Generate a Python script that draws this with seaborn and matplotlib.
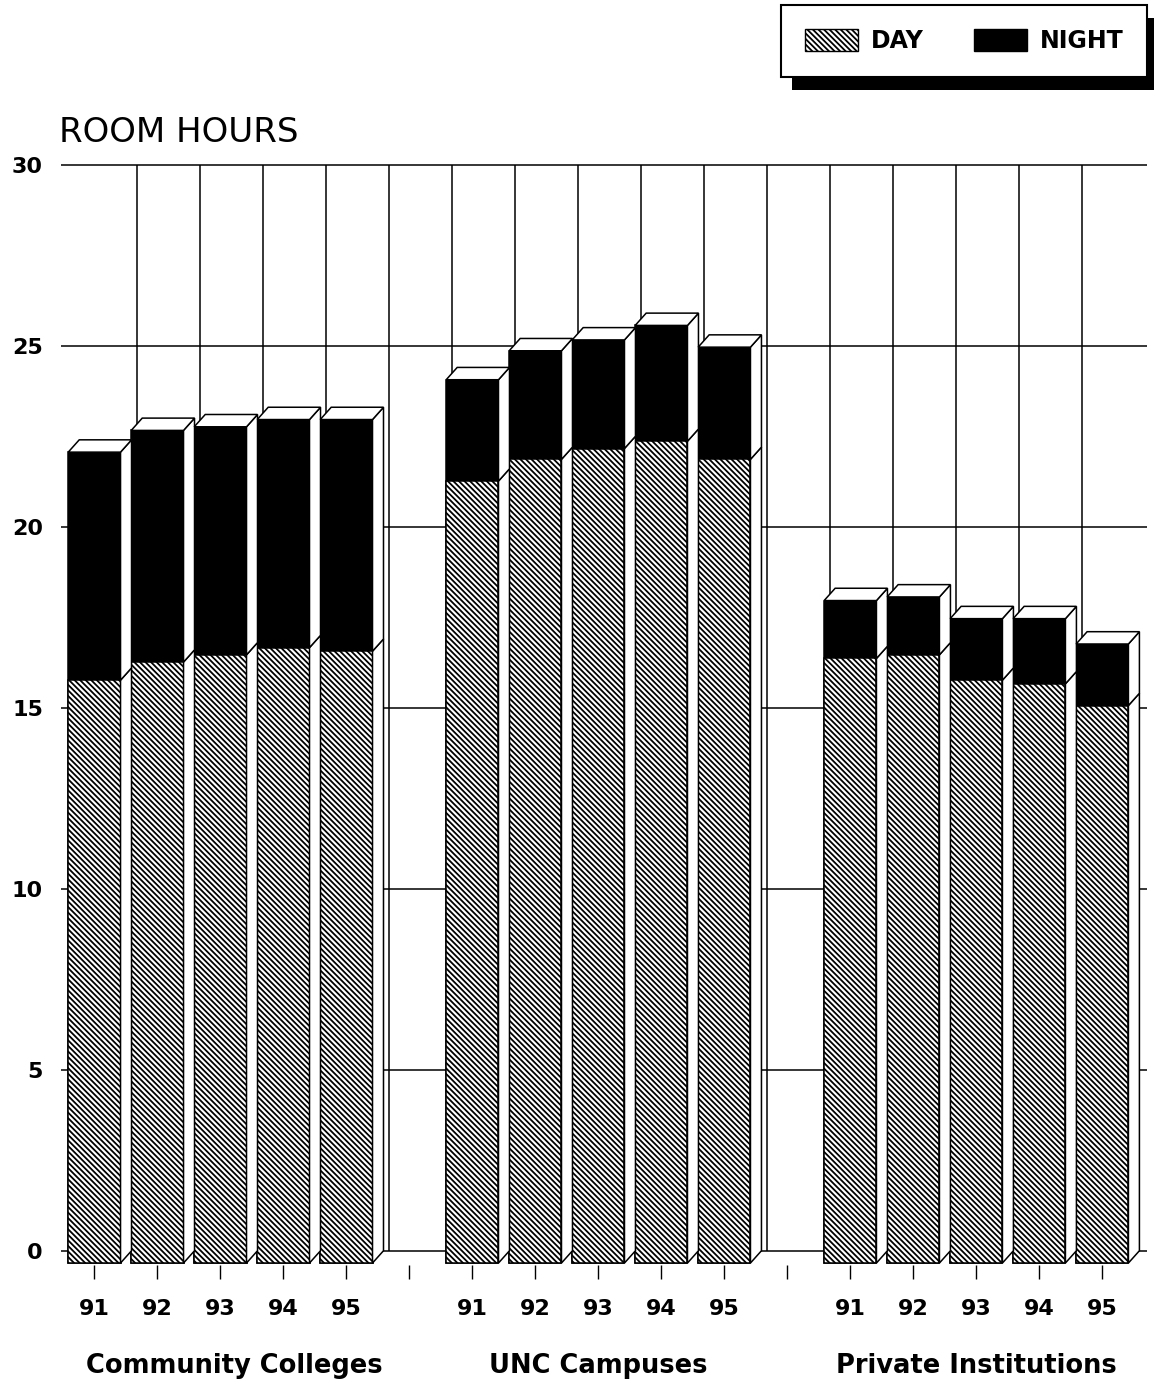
import numpy as np
import pandas as pd
import matplotlib
matplotlib.use("Agg")
import matplotlib.pyplot as plt
from matplotlib.patches import Polygon, Patch, Rectangle
from matplotlib.transforms import IdentityTransform
import seaborn as sns

# ---------------- data ----------------
groups = ["Community Colleges", "UNC Campuses", "Private Institutions"]
years = ["91", "92", "93", "94", "95"]
day_cc = [16.1, 16.6, 16.8, 17.0, 16.9]
night_cc = [6.3, 6.4, 6.3, 6.3, 6.4]
day_unc = [21.6, 22.2, 22.5, 22.7, 22.2]
night_unc = [2.8, 3.0, 3.0, 3.2, 3.1]
day_priv = [16.7, 16.8, 16.1, 16.0, 15.4]
night_priv = [1.6, 1.6, 1.7, 1.8, 1.7]
y_ticks = [0, 5, 10, 15, 20, 25, 30]
legend_labels = ["DAY", "NIGHT"]
y_title = "ROOM HOURS"

day_all = [day_cc, day_unc, day_priv]
night_all = [night_cc, night_unc, night_priv]

rows = []
for gi, g in enumerate(groups):
    for j, yr in enumerate(years):
        d = day_all[gi][j]
        n = night_all[gi][j]
        rows.append({"group": g, "year": yr, "slot": gi * 6 + j,
                     "day": d, "night": n, "total": d + n})
df = pd.DataFrame(rows)

# ---------------- style ----------------
sns.set_theme(style="white")
plt.rcParams["font.family"] = ["DejaVu Sans"]
plt.rcParams["hatch.linewidth"] = 1.3
plt.rcParams["hatch.color"] = "black"
for key in ["text.color", "axes.labelcolor", "xtick.color", "ytick.color",
            "xtick.labelcolor", "ytick.labelcolor", "legend.labelcolor"]:
    plt.rcParams[key] = "black"

W, H, DPI = 1154, 1381, 100
fig = plt.figure(figsize=(W / DPI, H / DPI), dpi=DPI)
fig.patch.set_facecolor("white")
ax = fig.add_axes([61 / W, 115.8 / H, 1086 / W, 1106.3 / H])
ax.set_facecolor("white")

XMIN, XMAX = -0.53, 16.71
YMIN, YMAX = -0.06, 30.5
DX = 11 / 63.0      # depth offset in slot units
DY = 12.3 / 36.2    # depth offset in value units
LW = 1.1
HATCH = "\\" * 6
n_slots = 17
gap_slots = [5, 11]

# back-wall grid
ax.hlines([v + DY for v in y_ticks], XMIN, XMAX, color="black", lw=LW, zorder=0.5)
ax.vlines([k + 0.5 + DX for k in range(n_slots - 1)], DY, max(y_ticks) + DY,
          color="black", lw=LW, zorder=0.5)

# front faces through seaborn
sns.barplot(data=df, x="slot", y="total", native_scale=True, color="black",
            saturation=1, width=0.83, errorbar=None, edgecolor="black",
            linewidth=LW, ax=ax, zorder=1)
sns.barplot(data=df, x="slot", y="day", native_scale=True, color="white",
            saturation=1, width=0.83, errorbar=None, edgecolor="black",
            linewidth=LW, hatch=HATCH, ax=ax, zorder=1)

n = len(df)
tot_p = sorted(ax.patches[:n], key=lambda p: p.get_x())
day_p = sorted(ax.patches[n:2 * n], key=lambda p: p.get_x())

def face(pts):
    ax.add_patch(Polygon(pts, closed=True, facecolor="white", edgecolor="black",
                         lw=LW, zorder=2, joinstyle="miter"))

for pt, pdy in zip(tot_p, day_p):
    x0 = pt.get_x()
    x1 = x0 + pt.get_width()
    hd = pdy.get_height()
    ht = pt.get_height()
    face([(x1, 0), (x1 + DX, DY), (x1 + DX, hd + DY), (x1, hd)])
    face([(x1, hd), (x1 + DX, hd + DY), (x1 + DX, ht + DY), (x1, ht)])
    face([(x0, ht), (x0 + DX, ht + DY), (x1 + DX, ht + DY), (x1, ht)])

ax.set_xlim(XMIN, XMAX)
ax.set_ylim(YMIN, YMAX)
for s in ax.spines.values():
    s.set_visible(False)

# x ticks
xlabels = []
yi = 0
for k in range(n_slots):
    if k in gap_slots:
        xlabels.append("")
    else:
        xlabels.append(years[yi % 5])
        yi += 1
ax.set_xticks(range(n_slots))
ax.set_xticklabels(xlabels, fontsize=16, fontweight="bold", color="black")
ax.tick_params(axis="x", bottom=True, length=10, width=1.0, color="black",
               labelcolor="black", direction="out", pad=14)
ax.set_xlabel("")

# y ticks
ax.set_yticks([v + DY for v in y_ticks])
ax.set_yticklabels([str(v) for v in y_ticks], fontsize=16, fontweight="bold",
                   color="black")
ax.tick_params(axis="y", left=False, length=0, pad=13, labelcolor="black")
ax.set_ylabel("")

# group labels
group_label_x = [2.22, 8.0, 14.0]
yb = (1265.2 - 1373) / 1106.3
for gx, g in zip(group_label_x, groups):
    ax.text(gx, yb, g, transform=ax.get_xaxis_transform(), ha="center",
            va="baseline", fontsize=18.5, fontweight="bold", color="black")

# title
fig.text(59 / W, 1 - 142 / H, y_title, fontsize=24.5, ha="left", va="baseline",
         color="black")

# legend
handles = [Patch(facecolor="white", edgecolor="black", hatch=HATCH, lw=1.0),
           Patch(facecolor="black", edgecolor="black")]
leg = fig.legend(handles, legend_labels, loc="upper right",
                 bbox_to_anchor=(1147 / W, 1 - 5 / H), ncol=2, frameon=True,
                 fancybox=False, shadow=False,
                 prop={"weight": "bold", "size": 17},
                 handlelength=2.25, handleheight=1.1, handletextpad=0.55,
                 columnspacing=2.1, borderpad=1.0, borderaxespad=0,
                 edgecolor="black", framealpha=1, labelcolor="black")
leg.get_frame().set_linewidth(1.5)
leg.set_zorder(5)

fig.canvas.draw()
bb = leg.get_window_extent()
shadow = Rectangle((bb.x0 + 11, bb.y0 - 13), bb.width, bb.height,
                   transform=IdentityTransform(), facecolor="black",
                   edgecolor="none", zorder=4)
fig.add_artist(shadow)

fig.savefig("out.png", dpi=DPI, facecolor="white")
